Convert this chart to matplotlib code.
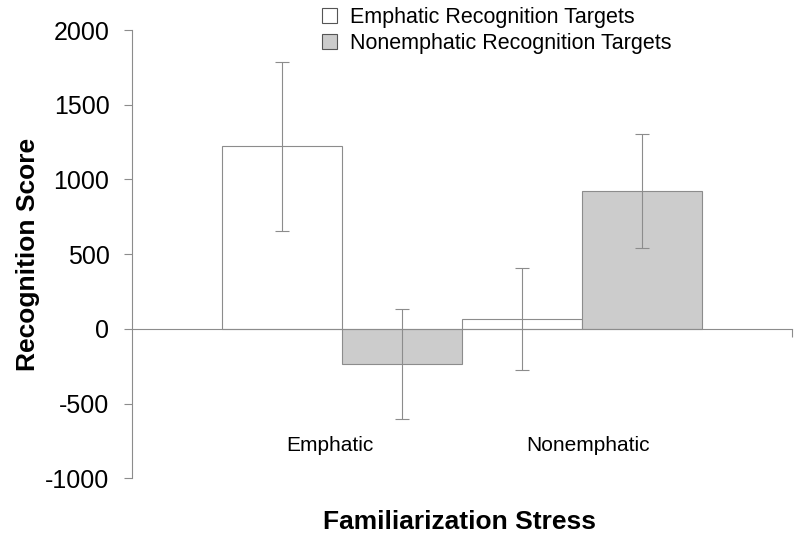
import numpy as np
import matplotlib
matplotlib.use('Agg')
import matplotlib.pyplot as plt
from matplotlib.patches import Patch

plt.rcParams['font.family'] = ['Liberation Sans', 'DejaVu Sans']
plt.rcParams['axes.unicode_minus'] = False

groups = ['Emphatic', 'Nonemphatic']
series = ['Emphatic Recognition Targets', 'Nonemphatic Recognition Targets']
emph_vals = [1225, 67]
nonemph_vals = [-235, 922]
emph_lo = [655, -272]
emph_hi = [1785, 408]
nonemph_lo = [-602, 541]
nonemph_hi = [134, 1307]
yticks = [-1000, -500, 0, 500, 1000, 1500, 2000]

line_col = '#8c8c8c'
fills = ['white', '#cccccc']

fig = plt.figure(figsize=(8, 5.4), dpi=100)
ax = fig.add_axes([0.1646, 0.1143, 0.8254, 0.8301])

x = np.arange(len(groups))
w = 0.5
vals = [emph_vals, nonemph_vals]
lo = [emph_lo, nonemph_lo]
hi = [emph_hi, nonemph_hi]
for i in range(2):
    xs = x - w / 2 + i * w
    v = np.array(vals[i])
    ax.bar(xs, v, width=w, color=fills[i], edgecolor=line_col, linewidth=0.8, zorder=2)
    yerr = [v - np.array(lo[i]), np.array(hi[i]) - v]
    ax.errorbar(xs, v, yerr=yerr, fmt='none', ecolor=line_col, elinewidth=0.8,
                capsize=5, capthick=0.8, zorder=3)

ax.set_xlim(-0.875, 1.877)
ax.set_ylim(-1000, 2000)
ax.set_yticks(yticks)
ax.tick_params(axis='y', direction='out', length=6, width=0.8, color=line_col,
               labelsize=18, pad=10)
ax.set_xticks([1.877])
ax.set_xticklabels([''])
ax.tick_params(axis='x', direction='out', length=6, width=0.8, color=line_col)

for s in ['top', 'right']:
    ax.spines[s].set_visible(False)
ax.spines['bottom'].set_position(('data', 0))
ax.spines['bottom'].set_color(line_col)
ax.spines['left'].set_color(line_col)
ax.spines['bottom'].set_linewidth(0.8)
ax.spines['left'].set_linewidth(0.8)

for gx, name, dx in zip(x, groups, [-0.05, 0.025]):
    ax.text(gx + dx, -780, name, ha='center', va='center', fontsize=15)

ax.set_ylabel('Recognition Score', fontsize=19, fontweight='bold', labelpad=4)
fig.text(0.574, 0.033, 'Familiarization Stress', ha='center', va='center',
         fontsize=19, fontweight='bold')

handles = [Patch(facecolor=fills[i], edgecolor='#555555', linewidth=0.8) for i in range(2)]
fig.legend(handles, series, loc='upper left', bbox_to_anchor=(0.392, 1.003),
           frameon=False, fontsize=15.5, handlelength=0.7, handleheight=0.7,
           handletextpad=0.6, labelspacing=0.25, borderaxespad=0)

fig.savefig('out.png', dpi=100)
